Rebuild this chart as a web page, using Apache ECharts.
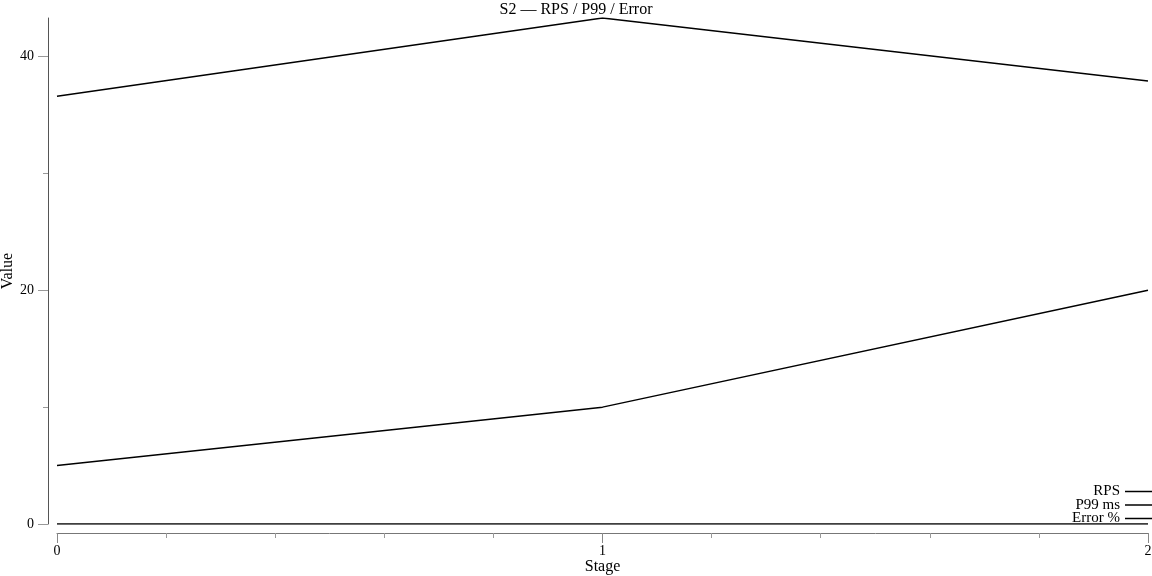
<!DOCTYPE html>
<html>
<head>
<meta charset="utf-8">
<script src="https://cdn.jsdelivr.net/npm/echarts@6/dist/echarts.min.js"></script>
<style>html,body{margin:0;padding:0;background:#fff}#c{width:1152px;height:576px}</style>
</head>
<body>
<div id="c"></div>
<script>
const stages = [0, 1, 2];
const rps = [36.6, 43.3, 37.9];
const p99 = [5, 10, 20];
const errPct = [0, 0, 0];
const seriesNames = ['RPS', 'P99 ms', 'Error %'];
const yTicks = [0, 20, 40];

const FONT = 'Liberation Serif';
const chart = echarts.init(document.getElementById('c'), null, {renderer: 'canvas'});
function pts(vals) { return stages.map((s, i) => [s, vals[i]]); }
const lineStyle = {color: '#000', width: 1.5};
chart.setOption({
  animation: false,
  backgroundColor: '#fff',
  textStyle: {fontFamily: FONT},
  title: {
    text: 'S2 — RPS / P99 / Error',
    left: 'center', top: -3,
    textStyle: {fontFamily: FONT, fontSize: 16, fontWeight: 'normal', color: '#000'}
  },
  grid: {left: 57, right: 4, top: 18, bottom: 52, containLabel: false, outerBoundsMode: 'none'},
  legend: {
    orient: 'vertical', right: 0, bottom: 50,
    align: 'right',
    itemWidth: 27, itemHeight: 1.5, itemGap: -1.5,
    icon: 'rect',
    data: seriesNames,
    textStyle: {fontFamily: FONT, fontSize: 15, color: '#000'},
    padding: 0
  },
  xAxis: {
    type: 'value', min: 0, max: 2, interval: 1, offset: 9,
    name: 'Stage', nameLocation: 'middle', nameGap: 26, nameMoveOverlap: false,
    nameTextStyle: {fontFamily: FONT, fontSize: 16, color: '#000'},
    axisLine: {onZero: false, lineStyle: {color: '#777', width: 1}},
    axisTick: {length: 10, lineStyle: {color: '#888'}},
    minorTick: {show: true, splitNumber: 5, length: 5, lineStyle: {color: '#999'}},
    splitLine: {show: false},
    axisLabel: {fontFamily: FONT, fontSize: 14, color: '#000', margin: 11}
  },
  yAxis: {
    type: 'value', min: 0, max: 'dataMax', interval: 20, offset: 9,
    name: 'Value', nameLocation: 'middle', nameGap: 32, nameMoveOverlap: false,
    nameTextStyle: {fontFamily: FONT, fontSize: 16, color: '#000'},
    axisLine: {show: true, onZero: false, lineStyle: {color: '#555', width: 1}},
    axisTick: {show: true, length: 10, lineStyle: {color: '#999'}, customValues: yTicks},
    minorTick: {show: true, splitNumber: 2, length: 5, lineStyle: {color: '#999'}},
    splitLine: {show: false},
    axisLabel: {fontFamily: FONT, fontSize: 14, color: '#000', margin: 14, customValues: yTicks}
  },
  series: [
    {name: seriesNames[0], type: 'line', data: pts(rps), showSymbol: false, symbol: 'none', lineStyle, itemStyle: {color: '#000'}},
    {name: seriesNames[1], type: 'line', data: pts(p99), showSymbol: false, symbol: 'none', lineStyle, itemStyle: {color: '#000'}},
    {name: seriesNames[2], type: 'line', data: pts(errPct), showSymbol: false, symbol: 'none', lineStyle, itemStyle: {color: '#000'}}
  ]
});
</script>
</body>
</html>
